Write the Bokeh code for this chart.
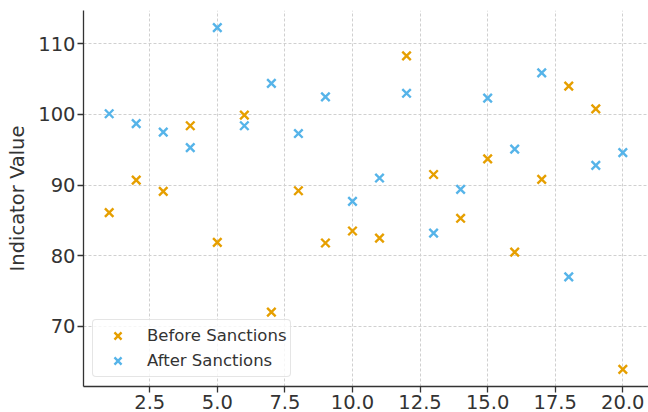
from bokeh.plotting import figure
from bokeh.models import FixedTicker, PrintfTickFormatter, Range1d
from bokeh.embed import file_html
from bokeh.resources import INLINE

x_vals = [1, 2, 3, 4, 5, 6, 7, 8, 9, 10, 11, 12, 13, 14, 15, 16, 17, 18, 19, 20]
before = [86.1, 90.7, 89.1, 98.4, 81.9, 99.9, 72.0, 89.2, 81.8, 83.5,
          82.5, 108.3, 91.5, 85.3, 93.7, 80.5, 90.8, 104.0, 100.8, 63.9]
after = [100.1, 98.7, 97.5, 95.3, 112.3, 98.4, 104.4, 97.3, 102.5, 87.7,
         91.0, 103.0, 83.2, 89.4, 102.3, 95.1, 105.9, 77.0, 92.8, 94.6]
x_ticks = [2.5, 5.0, 7.5, 10.0, 12.5, 15.0, 17.5, 20.0]
y_ticks = [70, 80, 90, 100, 110]
series_names = ["Before Sanctions", "After Sanctions"]
series_colors = ["#E69F00", "#56B4E9"]

xlo, xhi = min(x_vals), max(x_vals)
xs = xhi - xlo
all_y = before + after
ylo, yhi = min(all_y), max(all_y)
ys = yhi - ylo

FONT = "DejaVu Sans"
TXT = "#333333"

p = figure(width=648, height=412, output_backend="svg", toolbar_location=None,
           x_range=Range1d(xlo - 0.05 * xs, xhi + 0.05 * xs),
           y_range=Range1d(ylo - 0.05 * ys, yhi + 0.05 * ys),
           min_border_left=83, min_border_right=0, min_border_top=10,
           min_border_bottom=26)
p.outline_line_color = None
p.background_fill_color = "white"
p.border_fill_color = "white"

for ys_, name, col in zip([before, after], series_names, series_colors):
    p.scatter(x_vals, ys_, marker="x", size=12, line_width=2.4,
              line_color=col, legend_label=name)

p.xaxis.ticker = FixedTicker(ticks=x_ticks)
p.xaxis.formatter = PrintfTickFormatter(format="%.1f")
p.yaxis.ticker = FixedTicker(ticks=y_ticks)
p.yaxis.axis_label = "Indicator Value"

for ax in (p.xaxis, p.yaxis):
    ax.axis_line_color = TXT
    ax.axis_line_width = 1.3
    ax.major_tick_line_color = TXT
    ax.major_tick_line_width = 1.3
    ax.major_tick_out = 6
    ax.major_tick_in = 0
    ax.minor_tick_line_color = None
    ax.major_label_text_font = FONT
    ax.major_label_text_font_size = "19.5px"
    ax.major_label_text_color = TXT
    ax.major_label_standoff = 2
    ax.axis_label_text_font = FONT
    ax.axis_label_text_font_size = "19.5px"
    ax.axis_label_text_font_style = "normal"
    ax.axis_label_text_color = TXT
    ax.axis_label_standoff = 6

for g in (p.xgrid, p.ygrid):
    g.grid_line_color = "#d0d0d0"
    g.grid_line_dash = "3 2"
    g.grid_line_width = 1

lg = p.legend[0]
lg.location = "bottom_left"
lg.margin = 9
lg.padding = 3
lg.spacing = 0
lg.glyph_width = 43
lg.glyph_height = 25
lg.label_height = 25
lg.label_standoff = 8
lg.label_text_font = FONT
lg.label_text_font_size = "16.5px"
lg.label_text_color = TXT
lg.border_line_color = "#cccccc"
lg.border_line_width = 1
lg.background_fill_color = "white"
lg.background_fill_alpha = 0.8
try:
    lg.border_radius = 4
except Exception:
    pass

open("out.html", "w").write(file_html(p, INLINE))
